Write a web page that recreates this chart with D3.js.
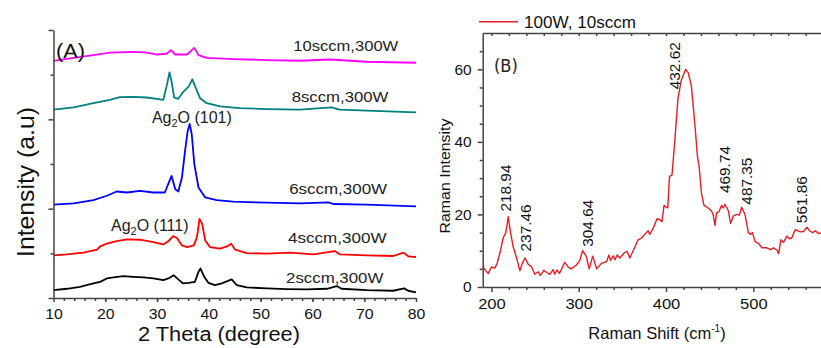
<!DOCTYPE html>
<html>
<head>
<meta charset="utf-8">
<script src="https://cdn.jsdelivr.net/npm/d3@7"></script>
<style>
  html, body { margin: 0; padding: 0; background: #fff; }
  svg { display: block; font-family: "Liberation Sans", Arial, sans-serif; }
  .axis path, .axis line { stroke: #444; stroke-width: 1.5; }
  .axis text { fill: #111; font-family: "Liberation Sans", Arial, sans-serif; }
</style>
</head>
<body>
<svg id="chart"></svg>
<script>
// ---- panel A : XRD patterns (2 theta, stacked intensity a.u.) ----
var xrdNames  = ["2sccm,300W", "4sccm,300W", "6sccm,300W", "8sccm,300W", "10sccm,300W"];
var xrdColors = ["#000000", "#ff0000", "#0000ff", "#008080", "#ff00ff"];

var theta2sccm = [10,12.6,15.1,17.7,19,20.3,21.6,23.5,25.4,27.4,29.3,31.2,32.2,33.2,34.1,35,36.1,37.3,38,38.4,39.1,39.9,41.2,42.5,43.7,44.4,45.4,47.3,51.2,55.1,58.9,62.8,64.7,65.6,70.5,75.6,77.7,78.5,80];
var int2sccm   = [8,9.3,11.3,14.7,16.3,19.7,20.7,22,21.3,20.7,19.7,18,19.7,23,18.7,14.7,15.3,16.3,26.3,29.7,21.3,15.3,13,14.7,17.3,18.7,13,10.7,9.7,9,8.7,9.3,12,9.3,8,7.3,9.7,7.3,5.7];

var theta4sccm = [10,12.6,15.8,18.4,19,20.3,22.2,24.2,26.7,29.3,31.2,32.2,33.1,33.8,34.8,35.8,37.1,37.7,38.2,38.7,39.3,40.2,42.2,43.5,44.3,45.1,47.3,51.2,55.7,60.2,64.3,65.3,70.5,75.6,77.6,78.5,80];
var int4sccm   = [43,44,45.7,48.7,52,54.7,57.3,59,58.7,56.3,54,57.3,62.3,60.7,53,51.3,53,61.3,79.7,74.7,58,51.3,49.7,52,54.7,48.7,45.3,44.7,45.7,44,47.3,44,43,42.3,45.7,42,41.3];

var theta6sccm = [10,13.9,17.7,20.3,22.2,24.2,26.7,29.3,31.5,32.4,32.8,33.5,34.1,34.8,35.4,35.9,36.3,36.7,37.2,38,39.3,41.5,44.7,51.2,57.6,63.1,64,70.5,80];
var int6sccm   = [94,95.3,98.7,103,107.3,106.3,108,106.3,106.3,118,123,109.7,107.3,121.3,148,168,175.3,164.7,134.7,111.3,101.3,98.7,97,96,95.3,96.3,94.7,94,92.3];

var theta8sccm = [10,13.9,17.7,20.9,22.8,25.4,28,30,31.2,31.9,32.4,32.8,33.3,34.1,35.1,36.1,36.8,37.5,38.3,39.6,42.2,46,51.2,57.6,63.7,65.3,70.5,80];
var int8sccm   = [189.7,192,196.3,199.7,202.3,202.7,202,200.7,199.7,214.7,227.3,218,202,200.7,208,213,220.3,211.3,201.3,196.3,193,191.3,190.3,189.7,192,189.7,188.7,187];

var theta10sccm = [10,13.9,17.7,20.9,25.4,28,30,31.9,32.7,33.5,35.8,36.7,37.2,38,39.6,44.7,51.2,57.6,63.4,70.5,80];
var int10sccm   = [239,242,244.7,247.3,248,247.3,245.3,246.3,249.7,245.3,245.3,249.7,252,244.7,242,240.7,239.7,239,240.3,238,237];

var xrdTheta = [theta2sccm, theta4sccm, theta6sccm, theta8sccm, theta10sccm];
var xrdInt   = [int2sccm, int4sccm, int6sccm, int8sccm, int10sccm];

var xTicksA = [10, 20, 30, 40, 50, 60, 70, 80];
// label anchors (theta, intensity)
var nameX = [54.9, 55.3, 55.5, 56.0, 56.3];
var nameY = [15.1, 55.7, 104.8, 197, 249.1];
var peakNamesA = ["(101)", "(111)"];
var peakXA = [29.0, 21.1];
var peakYA = [176, 67.5];

// ---- panel B : Raman spectrum ----
var ramanShift = [190,192.5,196.3,200,204,206.6,210.4,213.4,216.5,219.3,221.9,225,228.8,232.6,235.3,238.5,242,246,249.7,253.5,256,260,263.5,267,270.6,272.5,275,278,284,288,291.5,297,301,304.5,308.5,312,316,320.6,326,332,334.5,336.5,339.5,341.5,344,347,352.5,355.5,358.5,362,368,372,375.6,379.5,381.3,385,389.7,392.7,395.4,397.7,400,402,404,406.8,410,413.7,417.5,422.5,425.5,429,433,436,438,440.5,443.5,447,452,454,456,458,460.7,463.7,465.6,467.5,471.4,474,477,481,484,486.7,490.5,494.3,497,499,502,506,510,515.5,519.4,523,527,529,531.6,534.6,538.5,541.5,544,548,554,557.5,561.4,564.4,568,571,575,578];
var ramanInt   = [5.7,4.8,3.7,5.5,5.2,6.6,10,13.5,15,19.4,15,11,8,4.5,6.5,8,6.3,5.5,3.5,4.2,3.2,4.6,4,3.5,4.8,3.5,4.7,3.8,6.8,5.5,5,6,7.2,10,8.5,5,8.5,5,6.5,7,8.8,7.3,8.6,7.5,8.8,8,9.5,9.8,8,9.8,13,13.5,14.5,15.5,14.5,16,18.8,18.6,18,22.5,22,21.8,30.5,30.8,40,52,57,60,59,55.5,45,36,33,26,22.5,22,21,20,17,20.5,20.8,22.5,21.8,22.8,21,17.5,19.5,20,19.8,22,20,15,14.5,15,12.5,12,10.8,10.8,10.3,10.8,10.2,9.2,13,12.3,14,13.3,13.5,15.8,15.2,15.3,16.5,15.5,15,15.5,14.7,15];
var xTicksB = [200, 300, 400, 500];
var yTicksB = [0, 20, 40, 60];
var peakLabelsB = ["218.94", "237.46", "304.64", "432.62", "469.74", "487.35", "561.86"];
var peakLabelX  = [222.1, 245, 316.7, 416, 473.3, 498.1, 561.1];
var peakLabelY  = [20.8, 9.8, 11.1, 54.5, 25.9, 22.7, 17.6];

var width = 821, height = 348;
var svg = d3.select("#chart").attr("width", width).attr("height", height);
svg.append("rect").attr("width", width).attr("height", height).attr("fill", "#fff");

// wide-ish tick labels like the original figure
function styleTicks(sel, size, perChar){
  sel.selectAll("text")
    .attr("font-size", size)
    .attr("font-family", "'Liberation Sans', Arial, sans-serif")
    .attr("textLength", function(){ return this.textContent.length * perChar; })
    .attr("lengthAdjust", "spacingAndGlyphs");
}

// ================= panel A =================
var xA = d3.scaleLinear().domain([10, 80]).range([53.5, 416]);
var yA = d3.scaleLinear().domain([0, 270]).range([298, 30]);

var lineA = d3.line().x(function(d){ return xA(d[0]); }).y(function(d){ return yA(d[1]); });

xrdInt.forEach(function(vals, i){
  var pts = vals.map(function(v, j){ return [xrdTheta[i][j], v]; });
  svg.append("path").datum(pts)
    .attr("d", lineA)
    .attr("fill", "none")
    .attr("stroke", xrdColors[i])
    .attr("stroke-width", 1.8)
    .attr("stroke-linejoin", "round");
});

// minor ticks
svg.append("g").attr("class", "axis")
  .attr("transform", "translate(0,298)")
  .call(d3.axisBottom(xA).tickValues(d3.range(12, 80, 2)).tickSize(3).tickFormat(""))
  .select(".domain").remove();
svg.append("g").attr("class", "axis")
  .attr("transform", "translate(0,298)")
  .call(d3.axisBottom(xA).tickValues(xTicksA).tickSize(4).tickSizeOuter(0).tickPadding(6))
  .call(styleTicks, 15, 8.8);

svg.append("g").attr("class", "axis")
  .attr("transform", "translate(53.5,0)")
  .call(d3.axisLeft(yA).tickValues([45, 135, 225]).tickSize(3).tickFormat(""))
  .select(".domain").remove();
svg.append("g").attr("class", "axis")
  .attr("transform", "translate(53.5,0)")
  .call(d3.axisLeft(yA).tickValues([0, 90, 180, 270]).tickSize(5).tickSizeOuter(0).tickFormat(""));

// series names
var nameW = [97.3, 98.4, 98, 96.6, 105];
xrdNames.forEach(function(n, i){
  svg.append("text")
    .attr("x", xA(nameX[i])).attr("y", yA(nameY[i]))
    .attr("font-size", 15.5)
    .attr("textLength", nameW[i]).attr("lengthAdjust", "spacingAndGlyphs")
    .attr("fill", "#222")
    .text(n);
});

// Ag2O peak labels
peakNamesA.forEach(function(p, i){
  var t = svg.append("text")
    .attr("x", xA(peakXA[i])).attr("y", yA(peakYA[i]))
    .attr("font-size", 16).attr("fill", "#222");
  t.append("tspan").text("Ag");
  t.append("tspan").attr("font-size", 11).attr("dy", 4).text("2");
  t.append("tspan").attr("dy", -4).text("O " + p);
});

svg.append("text")
  .attr("x", xA(10.5)).attr("y", yA(241.8))
  .attr("font-size", 20).attr("textLength", 29).attr("lengthAdjust", "spacingAndGlyphs")
  .attr("fill", "#111").text("(A)");

svg.append("text")
  .attr("transform", "translate(34,182) rotate(-90)")
  .attr("text-anchor", "middle")
  .attr("font-size", 24).attr("textLength", 150).attr("lengthAdjust", "spacingAndGlyphs")
  .attr("fill", "#111").text("Intensity (a.u)");

svg.append("text")
  .attr("x", 219).attr("y", 341)
  .attr("text-anchor", "middle")
  .attr("font-size", 20).attr("textLength", 162).attr("lengthAdjust", "spacingAndGlyphs")
  .attr("fill", "#111").text("2 Theta (degree)");

// ================= panel B =================
var xB = d3.scaleLinear().domain([190, 600]).range([482.7, 840.6]);
var yB = d3.scaleLinear().domain([0, 70]).range([287, 33]);

var lineB = d3.line().x(function(d){ return xB(d[0]); }).y(function(d){ return yB(d[1]); });
svg.append("path")
  .datum(ramanShift.map(function(s, i){ return [s, ramanInt[i]]; }))
  .attr("d", lineB)
  .attr("fill", "none")
  .attr("stroke", "#e41e26")
  .attr("stroke-width", 1.4)
  .attr("stroke-linejoin", "round");

svg.append("g").attr("class", "axis")
  .attr("transform", "translate(0,287)")
  .call(d3.axisBottom(xB).tickValues(d3.range(220, 600, 20).filter(function(v){ return v % 100; })).tickSize(3).tickFormat(""))
  .select(".domain").remove();
svg.append("g").attr("class", "axis")
  .attr("transform", "translate(0,287)")
  .call(d3.axisBottom(xB).tickValues(xTicksB).tickSize(5).tickSizeOuter(0).tickPadding(6))
  .call(styleTicks, 15, 9.2);

svg.append("g").attr("class", "axis")
  .attr("transform", "translate(0,33)")
  .call(d3.axisTop(xB).tickValues(d3.range(200, 600, 20)).tickSize(-3).tickSizeOuter(0).tickFormat(""));

svg.append("g").attr("class", "axis")
  .attr("transform", "translate(482.7,0)")
  .call(d3.axisLeft(yB).tickValues([5, 10, 15, 25, 30, 35, 45, 50, 55, 65]).tickSize(3).tickFormat(""))
  .select(".domain").remove();
svg.append("g").attr("class", "axis")
  .attr("transform", "translate(482.7,0)")
  .call(d3.axisLeft(yB).tickValues(yTicksB).tickSize(5).tickSizeOuter(0).tickPadding(6))
  .call(styleTicks, 15, 8.6);

// peak position labels
peakLabelsB.forEach(function(lbl, i){
  svg.append("text")
    .attr("transform", "translate(" + xB(peakLabelX[i]) + "," + yB(peakLabelY[i]) + ") rotate(-90)")
    .attr("font-size", 15)
    .attr("textLength", 47).attr("lengthAdjust", "spacingAndGlyphs")
    .attr("fill", "#111")
    .text(lbl);
});

svg.append("text")
  .attr("x", 494).attr("y", 72)
  .attr("font-family", "'Liberation Sans Narrow', 'DejaVu Sans Condensed', sans-serif")
  .attr("font-size", 18).attr("fill", "#222").text("(B)");

// legend
svg.append("line")
  .attr("x1", 479).attr("x2", 518).attr("y1", 21.7).attr("y2", 21.7)
  .attr("stroke", "#e41e26").attr("stroke-width", 1.4);
svg.append("text")
  .attr("x", 524).attr("y", 27.5)
  .attr("font-size", 16).attr("textLength", 112).attr("lengthAdjust", "spacingAndGlyphs")
  .attr("fill", "#111").text("100W, 10sccm");

svg.append("text")
  .attr("transform", "translate(450,176) rotate(-90)")
  .attr("text-anchor", "middle")
  .attr("font-size", 15).attr("textLength", 115).attr("lengthAdjust", "spacingAndGlyphs")
  .attr("fill", "#111").text("Raman Intensity");

var xt = svg.append("text")
  .attr("x", 657).attr("y", 339)
  .attr("text-anchor", "middle")
  .attr("font-size", 16.5).attr("fill", "#111");
xt.append("tspan").text("Raman Shift (cm");
xt.append("tspan").attr("font-size", 10).attr("dy", -7).text("-1");
xt.append("tspan").attr("dy", 7).text(")");
</script>
</body>
</html>
